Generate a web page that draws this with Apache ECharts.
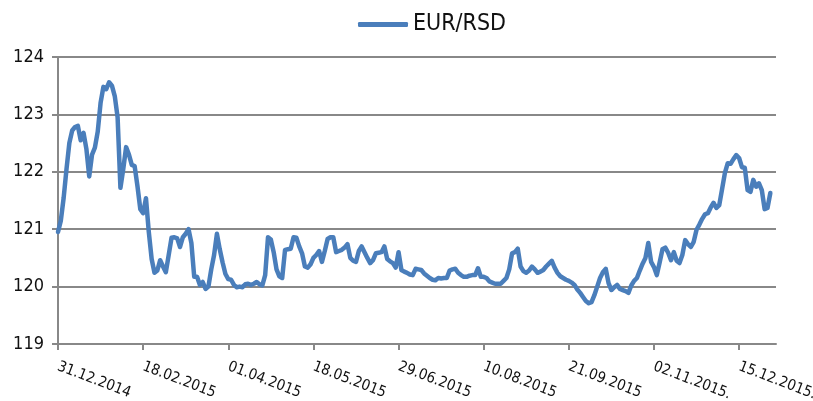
<!DOCTYPE html>
<html>
<head>
<meta charset="utf-8">
<script src="https://cdn.jsdelivr.net/npm/echarts@6/dist/echarts.min.js"></script>
<style>
    html,body{margin:0;padding:0;background:#fff;}
    #main{width:813px;height:401px;}
</style>
</head>
<body>
<div id="main"></div>
<script>
//EUR/RSD srednji kurs, radni dani od 31.12.2014
var seriesName='EUR/RSD';
var tickLabels=['31.12.2014','18.02.2015','01.04.2015','18.05.2015','29.06.2015',
    '10.08.2015','21.09.2015','02.11.2015.','15.12.2015.'];
var tickStep=30;
var yTicks={min:119,max:124,step:1};
var rates=[
    120.95,121.15,121.55,122.05,122.50,122.72,122.78,122.80,122.55,122.68,
    122.40,121.92,122.30,122.42,122.70,123.20,123.48,123.44,123.56,123.50,
    123.32,122.95,121.72,122.05,122.43,122.30,122.12,122.10,121.75,121.35,
    121.28,121.54,120.95,120.48,120.24,120.28,120.46,120.35,120.25,120.55,
    120.85,120.86,120.84,120.69,120.86,120.92,121.00,120.76,120.17,120.17,
    120.03,120.08,119.96,120.00,120.30,120.55,120.92,120.65,120.42,120.22,
    120.13,120.12,120.03,119.99,120.00,119.99,120.04,120.05,120.03,120.05,
    120.08,120.04,120.02,120.20,120.86,120.82,120.60,120.30,120.18,120.15,
    120.64,120.65,120.66,120.86,120.85,120.70,120.58,120.35,120.33,120.39,
    120.50,120.55,120.62,120.43,120.62,120.83,120.86,120.86,120.60,120.62,
    120.64,120.68,120.74,120.50,120.45,120.43,120.62,120.70,120.60,120.50,
    120.41,120.46,120.58,120.59,120.60,120.70,120.48,120.44,120.41,120.33,
    120.60,120.29,120.26,120.24,120.21,120.20,120.31,120.30,120.29,120.23,
    120.19,120.15,120.12,120.11,120.15,120.14,120.15,120.15,120.28,120.30,
    120.31,120.24,120.20,120.17,120.17,120.19,120.20,120.20,120.32,120.17,
    120.17,120.15,120.09,120.07,120.05,120.05,120.05,120.10,120.15,120.30,
    120.58,120.60,120.66,120.35,120.27,120.24,120.28,120.35,120.30,120.24,
    120.26,120.29,120.35,120.40,120.45,120.33,120.24,120.18,120.15,120.12,
    120.10,120.07,120.03,119.95,119.89,119.82,119.75,119.71,119.73,119.85,
    120.00,120.15,120.25,120.31,120.06,119.94,119.99,120.03,119.96,119.94,
    119.92,119.89,120.02,120.10,120.15,120.28,120.40,120.50,120.76,120.43,
    120.34,120.20,120.42,120.65,120.68,120.59,120.46,120.60,120.45,120.41,
    120.55,120.81,120.74,120.69,120.78,120.99,121.08,121.18,121.26,121.28,
    121.38,121.46,121.37,121.42,121.70,121.98,122.15,122.14,122.22,122.29,
    122.24,122.08,122.07,121.68,121.65,121.86,121.74,121.80,121.68,121.35,
    121.37,121.63
];

var fontName="'Liberation Sans Narrow','DejaVu Sans Condensed',sans-serif";
var gridColor='#888888';

//kategorije = redni broj radnog dana
var days=[];
for(var i=0;i<rates.length;i++){
    days.push(String(i));
}

var option={
    animation:false,
    backgroundColor:'#ffffff',
    legend:{
        data:[seriesName],
        left:353,
        top:8,
        icon:'roundRect',
        itemWidth:50,
        itemHeight:5,
        itemGap:4,
        textStyle:{fontFamily:fontName,fontSize:23,color:'#111'}
    },
    grid:{left:58,right:37,top:57,bottom:57,containLabel:false,outerBoundsMode:'none'},
    xAxis:{
        type:'category',
        data:days,
        boundaryGap:false,
        max:rates.length+1,
        axisLine:{lineStyle:{color:gridColor,width:2}},
        axisTick:{
            show:true,length:6,
            interval:function(index){return index%tickStep===0;},
            lineStyle:{color:gridColor,width:2}
        },
        axisLabel:{
            interval:function(index){return index%tickStep===0;},
            rotate:-21,
            margin:22,
            fontFamily:fontName,
            fontSize:15,
            color:'#111',
            formatter:function(value,index){
                var k=index/tickStep;
                return tickLabels[k]||'';
            }
        },
        splitLine:{show:false}
    },
    yAxis:{
        type:'value',
        min:yTicks.min,
        max:yTicks.max,
        interval:yTicks.step,
        axisLine:{show:true,lineStyle:{color:gridColor,width:2}},
        axisTick:{show:true,length:6,lineStyle:{color:gridColor,width:2}},
        axisLabel:{margin:14,fontFamily:fontName,fontSize:18,color:'#111'},
        splitLine:{lineStyle:{color:gridColor,width:2}}
    },
    series:[
        {
            name:seriesName,
            type:'line',
            data:rates,
            showSymbol:false,
            symbol:'none',
            smooth:false,
            itemStyle:{color:'#4a7ebb'},
            lineStyle:{color:'#4a7ebb',width:4.5,cap:'round',join:'round'}
        }
    ]
};
var myChart=echarts.init(document.getElementById('main'));
myChart.setOption(option);
</script>
</body>
</html>
